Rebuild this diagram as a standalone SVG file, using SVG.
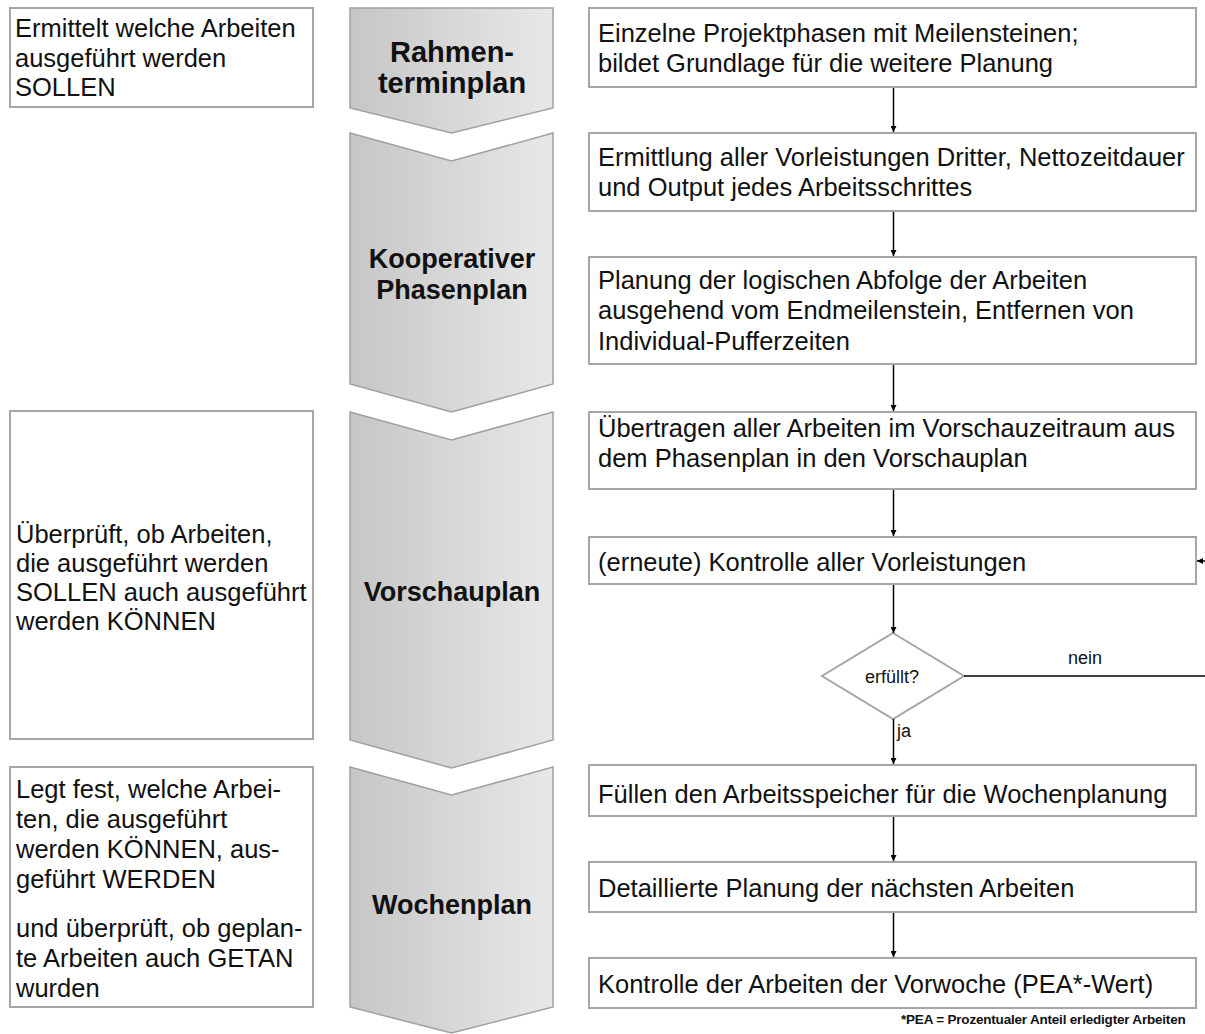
<svg xmlns="http://www.w3.org/2000/svg" width="1205" height="1034" viewBox="0 0 1205 1034">
<defs>
<linearGradient id="chev" x1="0" y1="0" x2="1" y2="0">
<stop offset="0" stop-color="#c6c6c6"/>
<stop offset="1" stop-color="#e8e8e8"/>
</linearGradient>
<marker id="ah" viewBox="0 0 10 10" refX="10" refY="5" markerWidth="6" markerHeight="6" markerUnits="userSpaceOnUse" orient="auto">
<path d="M0,0 L10,5 L0,10 Z" fill="#000"/>
</marker>
<style>
.box{fill:#fff;stroke:#a6a6a6;stroke-width:2}
.chev{fill:url(#chev);stroke:#a0a0a0;stroke-width:1.5}
.t{font-family:"Liberation Sans",Arial,sans-serif;font-size:25.5px;fill:#111}
.c{font-family:"Liberation Sans",Arial,sans-serif;font-size:27px;font-weight:bold;fill:#111;text-anchor:middle}
.s{font-family:"Liberation Sans",Arial,sans-serif;font-size:18px;fill:#111}
.f{font-family:"Liberation Sans",Arial,sans-serif;font-size:13.5px;font-weight:bold;fill:#111;letter-spacing:-0.2px}
.ln{stroke:#000;stroke-width:1.5;fill:none}
</style>
</defs>
<rect width="1205" height="1034" fill="#fff"/>

<g id="chevron-rahmen">
<path class="chev" d="M350,8 L553,8 L553,108 L451.5,133 L350,108 Z"/>
<text class="c" x="452" y="62" style="font-size:29px">Rahmen-</text>
<text class="c" x="452" y="93" style="font-size:29px">terminplan</text>
</g>
<g id="chevron-phasen">
<path class="chev" d="M350,133 L451.5,161 L553,133 L553,384 L451.5,412 L350,384 Z"/>
<text class="c" x="452" y="268">Kooperativer</text>
<text class="c" x="452" y="299">Phasenplan</text>
</g>
<g id="chevron-vorschau">
<path class="chev" d="M350,412 L451.5,440 L553,412 L553,740 L451.5,768 L350,740 Z"/>
<text class="c" x="452" y="601">Vorschauplan</text>
</g>
<g id="chevron-wochen">
<path class="chev" d="M350,767 L451.5,795 L553,767 L553,1007 L451.5,1033 L350,1007 Z"/>
<text class="c" x="452" y="914">Wochenplan</text>
</g>

<g id="left-soll">
<rect class="box" x="10" y="8" width="303" height="99"/>
<text class="t" x="15" y="37">Ermittelt welche Arbeiten</text>
<text class="t" x="15" y="67">ausgeführt werden</text>
<text class="t" x="15" y="96">SOLLEN</text>
</g>
<g id="left-koennen">
<rect class="box" x="10" y="411" width="303" height="328"/>
<text class="t" x="16" y="543">Überprüft, ob Arbeiten,</text>
<text class="t" x="16" y="572">die ausgeführt werden</text>
<text class="t" x="16" y="601">SOLLEN auch ausgeführt</text>
<text class="t" x="16" y="630">werden KÖNNEN</text>
</g>
<g id="left-werden">
<rect class="box" x="10" y="767" width="303" height="240"/>
<text class="t" x="16" y="798">Legt fest, welche Arbei-</text>
<text class="t" x="16" y="828">ten, die ausgeführt</text>
<text class="t" x="16" y="858">werden KÖNNEN, aus-</text>
<text class="t" x="16" y="888">geführt WERDEN</text>
<text class="t" x="16" y="937">und überprüft, ob geplan-</text>
<text class="t" x="16" y="967">te Arbeiten auch GETAN</text>
<text class="t" x="16" y="997">wurden</text>
</g>

<g id="step1">
<rect class="box" x="589" y="8" width="607" height="79"/>
<text class="t" x="598" y="42">Einzelne Projektphasen mit Meilensteinen;</text>
<text class="t" x="598" y="72">bildet Grundlage für die weitere Planung</text>
</g>
<g id="step2">
<rect class="box" x="589" y="133" width="607" height="78"/>
<text class="t" x="598" y="166">Ermittlung aller Vorleistungen Dritter, Nettozeitdauer</text>
<text class="t" x="598" y="196">und Output jedes Arbeitsschrittes</text>
</g>
<g id="step3">
<rect class="box" x="589" y="257" width="607" height="107"/>
<text class="t" x="598" y="289">Planung der logischen Abfolge der Arbeiten</text>
<text class="t" x="598" y="319">ausgehend vom Endmeilenstein, Entfernen von</text>
<text class="t" x="598" y="350">Individual-Pufferzeiten</text>
</g>
<g id="step4">
<rect class="box" x="589" y="412" width="607" height="77"/>
<text class="t" x="598" y="437">Übertragen aller Arbeiten im Vorschauzeitraum aus</text>
<text class="t" x="598" y="467">dem Phasenplan in den Vorschauplan</text>
</g>
<g id="step5">
<rect class="box" x="589" y="537" width="607" height="47"/>
<text class="t" x="598" y="571">(erneute) Kontrolle aller Vorleistungen</text>
</g>
<g id="decision">
<path d="M893,633 L964,676 L893,719 L822,676 Z" fill="#fff" stroke="#a6a6a6" stroke-width="2"/>
<text class="s" x="892" y="683" text-anchor="middle">erfüllt?</text>
</g>
<g id="step6">
<rect class="box" x="589" y="765" width="607" height="51"/>
<text class="t" x="598" y="803">Füllen den Arbeitsspeicher für die Wochenplanung</text>
</g>
<g id="step7">
<rect class="box" x="589" y="862" width="607" height="50"/>
<text class="t" x="598" y="897">Detaillierte Planung der nächsten Arbeiten</text>
</g>
<g id="step8">
<rect class="box" x="589" y="958" width="607" height="50"/>
<text class="t" x="598" y="993">Kontrolle der Arbeiten der Vorwoche (PEA*-Wert)</text>
</g>

<g id="connectors">
<line class="ln" x1="893.5" y1="88" x2="893.5" y2="132" marker-end="url(#ah)"/>
<line class="ln" x1="893.5" y1="212" x2="893.5" y2="256" marker-end="url(#ah)"/>
<line class="ln" x1="893.5" y1="365" x2="893.5" y2="411" marker-end="url(#ah)"/>
<line class="ln" x1="893.5" y1="490" x2="893.5" y2="536" marker-end="url(#ah)"/>
<line class="ln" x1="893.5" y1="585" x2="893.5" y2="633" marker-end="url(#ah)"/>
<line class="ln" x1="893.5" y1="719" x2="893.5" y2="764" marker-end="url(#ah)"/>
<line class="ln" x1="893.5" y1="817" x2="893.5" y2="861" marker-end="url(#ah)"/>
<line class="ln" x1="893.5" y1="913" x2="893.5" y2="957" marker-end="url(#ah)"/>
<line class="ln" x1="964" y1="676" x2="1205" y2="676"/>
<line class="ln" x1="1205" y1="561" x2="1197" y2="561" marker-end="url(#ah)"/>
<text class="s" x="1085" y="664" text-anchor="middle">nein</text>
<text class="s" x="897" y="737">ja</text>
</g>

<text class="f" x="901" y="1024">*PEA = Prozentualer Anteil erledigter Arbeiten</text>
</svg>
